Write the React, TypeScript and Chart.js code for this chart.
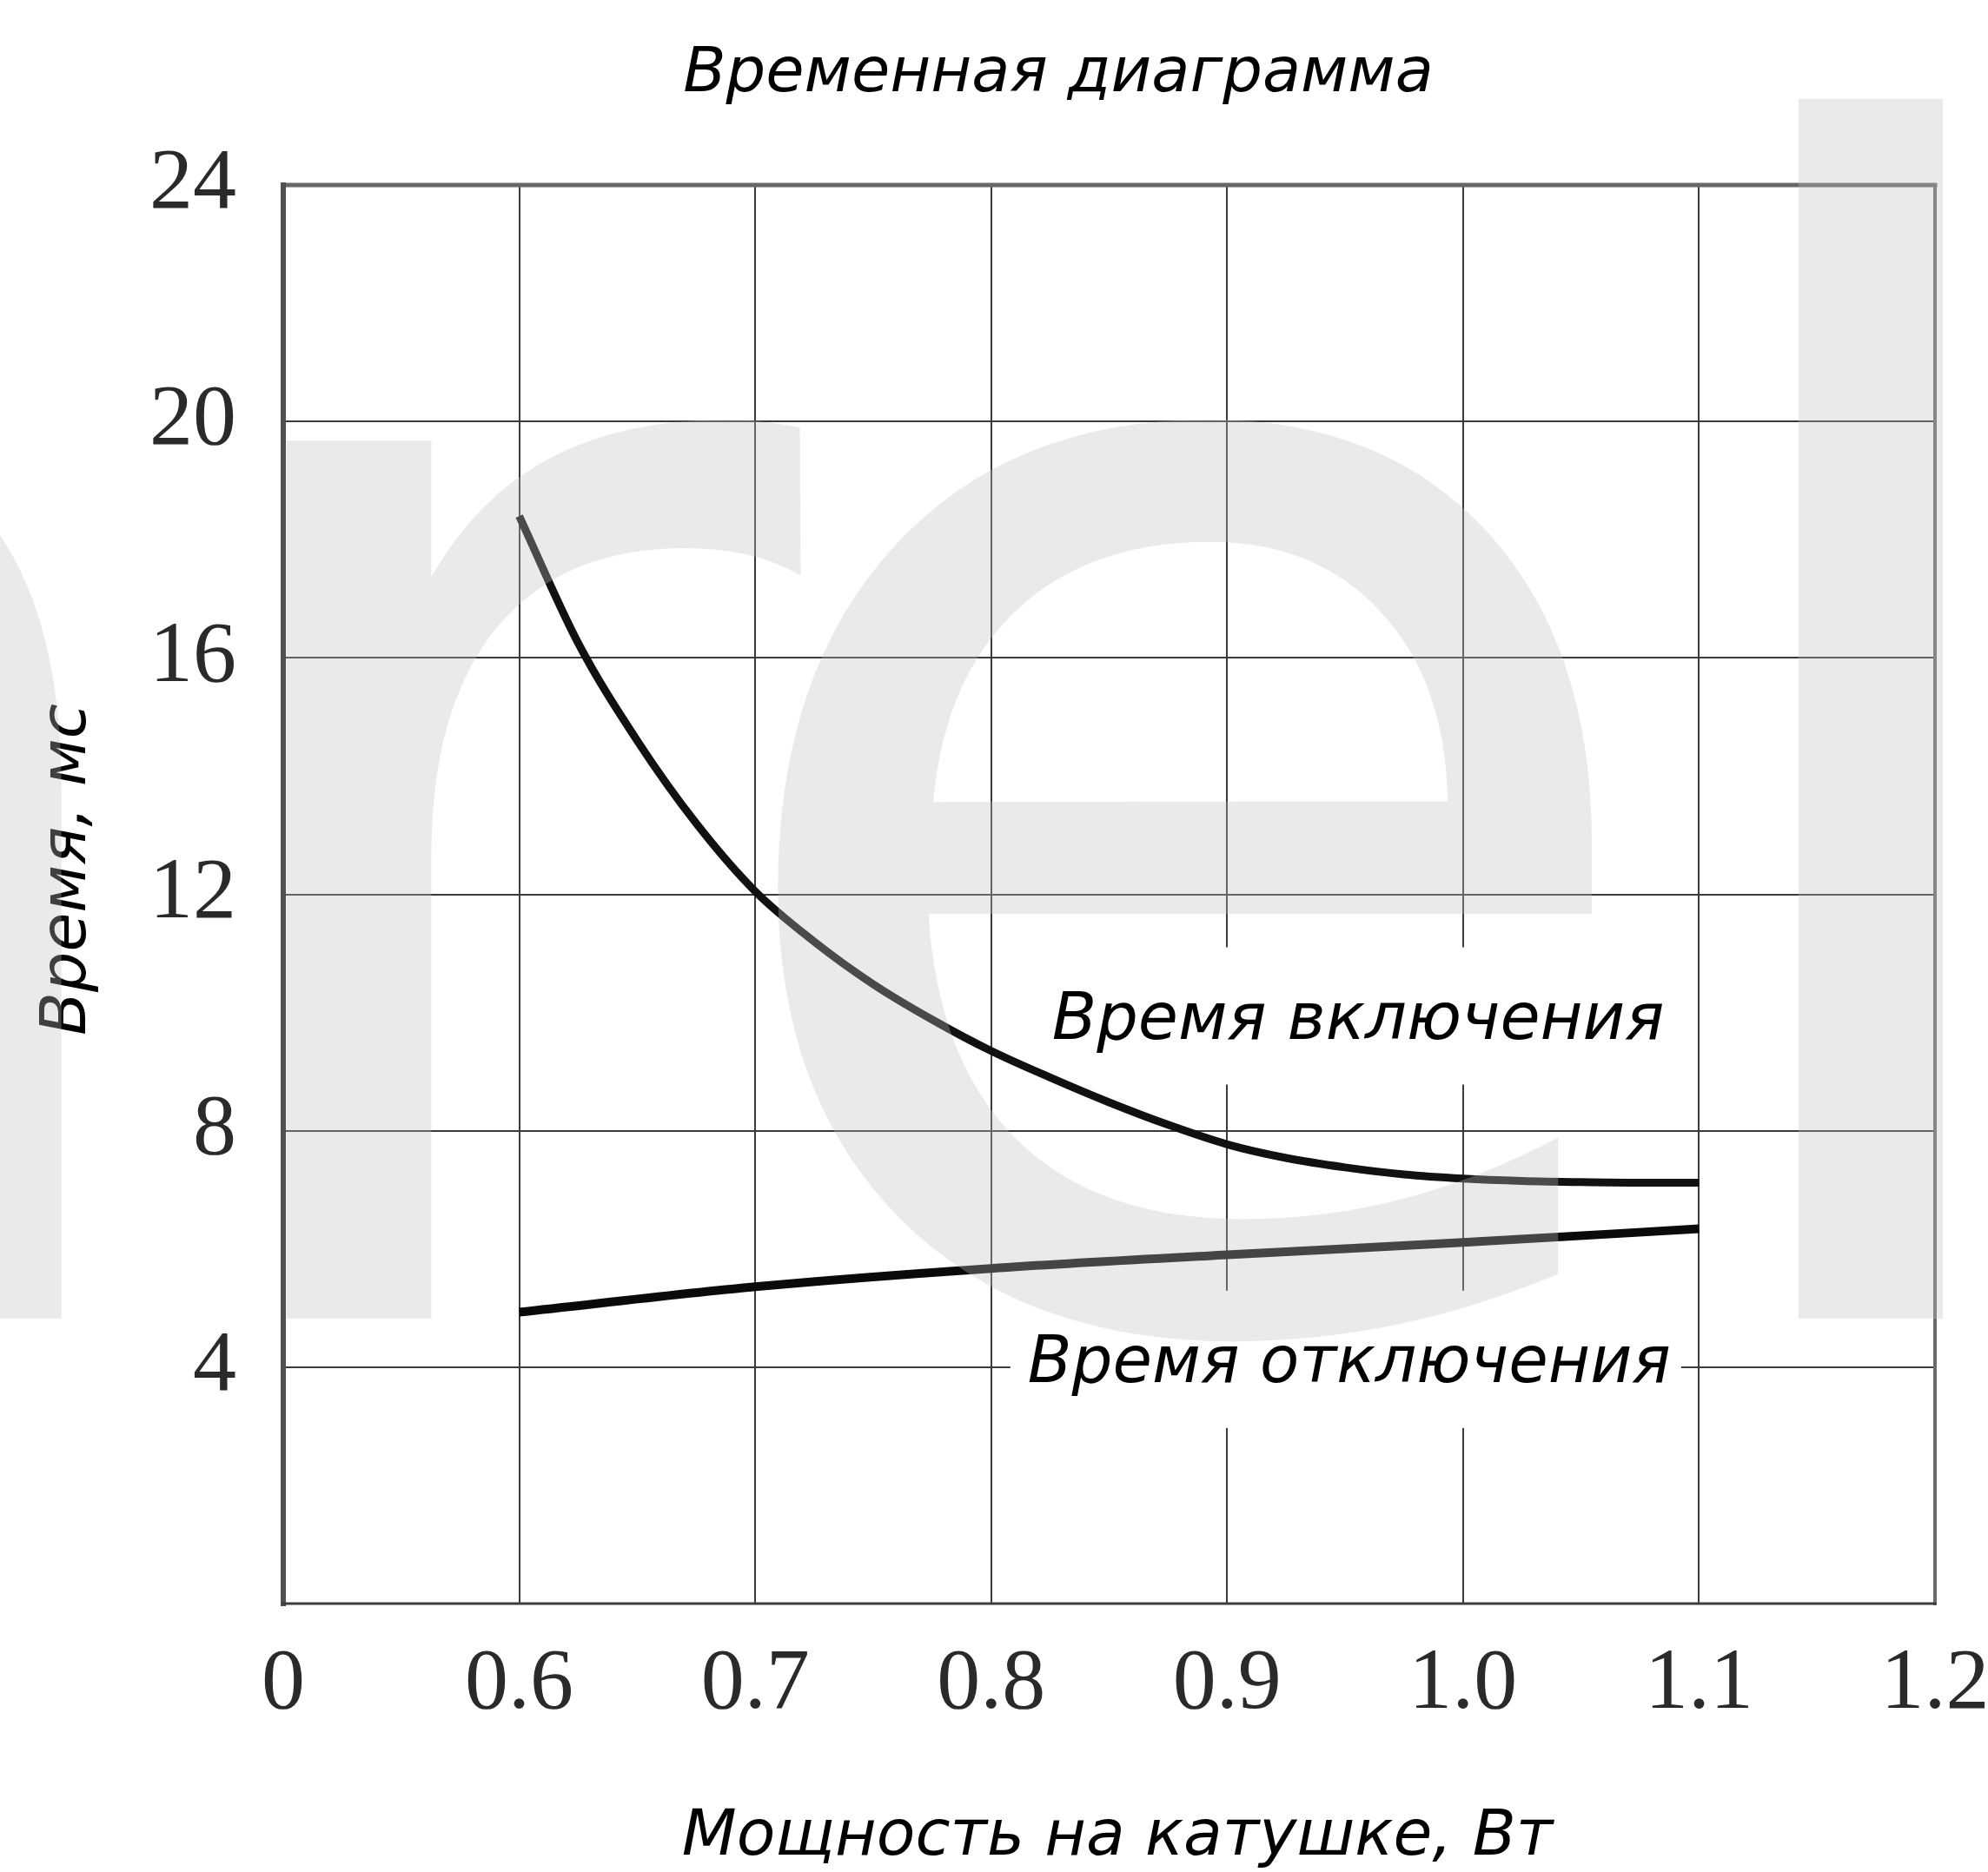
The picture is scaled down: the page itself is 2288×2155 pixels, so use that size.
import React, { useEffect, useRef } from 'react';
import { Chart, registerables } from 'chart.js';

Chart.register(...registerables);

// ---- data ----
const xTickLabels = ['0', '0.6', '0.7', '0.8', '0.9', '1.0', '1.1', '1.2'];
const yTickValues = [0, 4, 8, 12, 16, 20, 24];

// "Время включения" (switch-on time), ms vs coil power, W
const onPower = [
  0.6, 0.625, 0.65, 0.675, 0.7, 0.725, 0.75, 0.775, 0.8, 0.825, 0.85,
  0.875, 0.9, 0.925, 0.95, 0.975, 1.0, 1.025, 1.05, 1.075, 1.1,
];
const onTime = [
  18.4, 16.25, 14.6, 13.2, 12.05, 11.2, 10.48, 9.88, 9.35, 8.9, 8.48,
  8.1, 7.77, 7.54, 7.38, 7.26, 7.19, 7.15, 7.13, 7.12, 7.12,
];

// "Время отключения" (switch-off time)
const offPower = [0.6, 0.7, 0.8, 0.9, 1.0, 1.1];
const offTime = [4.93, 5.36, 5.67, 5.9, 6.11, 6.34];

const titleText = 'Временная диаграмма';
const xTitleText = 'Мощность на катушке, Вт';
const yTitleText = 'Время, мс';
const onLabel = 'Время включения';
const offLabel = 'Время отключения';
const watermarkLetters = ['n', 'r', 'e', 'l'];

// the x axis is broken: 0 sits one step before 0.6
const toAxis = (p: number) => (p === 0 ? 0 : (p - 0.5) * 10);

const W = 2288;
const H = 2155;
const TEXT_FONT = '"DejaVu Sans", Verdana, sans-serif';
const TICK_FONT = '"Liberation Serif", "Times New Roman", serif';

const decorPlugin = {
  id: 'decor',
  beforeDatasetsDraw(chart: any) {
    const ctx = chart.ctx;
    const xs = chart.scales.x;
    const ys = chart.scales.y;
    ctx.save();
    ctx.textBaseline = 'alphabetic';
    ctx.textAlign = 'left';
    const labels = [
      { text: onLabel, size: 75, x: xs.getPixelForValue(3.258), y: ys.getPixelForValue(9.56) },
      { text: offLabel, size: 74, x: xs.getPixelForValue(3.155), y: ys.getPixelForValue(3.75) },
    ];
    for (const l of labels) {
      ctx.font = `italic ${l.size}px ${TEXT_FONT}`;
      const m = ctx.measureText(l.text);
      const left = l.x - 20;
      const right = l.x + m.width + 12;
      ctx.fillStyle = '#ffffff';
      ctx.fillRect(left, l.y - 105, right - left, 158);
    }
    ctx.fillStyle = '#000000';
    for (const l of labels) {
      ctx.font = `italic ${l.size}px ${TEXT_FONT}`;
      ctx.fillText(l.text, l.x, l.y);
    }
    ctx.restore();
  },
  afterDatasetsDraw(chart: any) {
    const ctx = chart.ctx;
    const a = chart.chartArea;
    ctx.save();
    ctx.lineCap = 'square';
    ctx.strokeStyle = '#666666';
    ctx.lineWidth = 5;
    ctx.beginPath();
    ctx.moveTo(a.left, a.top);
    ctx.lineTo(a.right, a.top);
    ctx.stroke();
    ctx.strokeStyle = '#6a6a6a';
    ctx.lineWidth = 4;
    ctx.beginPath();
    ctx.moveTo(a.right, a.top);
    ctx.lineTo(a.right, a.bottom);
    ctx.stroke();
    ctx.strokeStyle = '#505050';
    ctx.lineWidth = 6;
    ctx.beginPath();
    ctx.moveTo(a.left, a.top);
    ctx.lineTo(a.left, a.bottom);
    ctx.stroke();
    ctx.strokeStyle = '#3c3c3c';
    ctx.lineWidth = 3;
    ctx.beginPath();
    ctx.moveTo(a.left, a.bottom);
    ctx.lineTo(a.right, a.bottom);
    ctx.stroke();
    ctx.restore();
  },
  afterDraw(chart: any) {
    const ctx = chart.ctx;
    ctx.save();
    ctx.fillStyle = '#000000';
    ctx.textAlign = 'center';
    ctx.textBaseline = 'alphabetic';
    // title
    ctx.font = `italic 72px ${TEXT_FONT}`;
    ctx.fillText(titleText, 1218, 105);
    // x axis title
    ctx.font = `italic 73px ${TEXT_FONT}`;
    ctx.fillText(xTitleText, 1286, 2135);
    // y axis title
    ctx.save();
    ctx.translate(98, 1001);
    ctx.rotate(-Math.PI / 2);
    ctx.font = `italic 73px ${TEXT_FONT}`;
    ctx.textAlign = 'center';
    ctx.fillText(yTitleText, 0, 0);
    ctx.restore();

    // watermark overlay ("...rel")
    const fam = '"DejaVu Sans", Verdana, sans-serif';
    ctx.font = `1000px ${fam}`;
    const mL = ctx.measureText('l');
    const size = (1000 * 1415) / mL.actualBoundingBoxAscent;
    ctx.font = `${size}px ${fam}`;
    ctx.textAlign = 'left';
    ctx.textBaseline = 'alphabetic';
    ctx.fillStyle = 'rgba(190,190,190,0.33)';
    const base = 1518;
    const place = [
      { ch: watermarkLetters[0], right: 96 },
      { ch: watermarkLetters[1], left: 306 },
      { ch: watermarkLetters[2], left: 880 },
      { ch: watermarkLetters[3], left: 2069 },
    ] as any[];
    for (const p of place) {
      const m = ctx.measureText(p.ch);
      let x: number;
      if (p.left !== undefined) x = p.left + m.actualBoundingBoxLeft;
      else x = p.right - m.actualBoundingBoxRight;
      ctx.fillText(p.ch, x, base);
    }
    ctx.restore();
  },
};

export default function App() {
  const ref = useRef<HTMLCanvasElement | null>(null);

  useEffect(() => {
    document.body.style.margin = '0';
    const canvas = ref.current;
    if (!canvas) return;
    const chart = new Chart(canvas, {
      type: 'line',
      data: {
        datasets: [
          {
            label: onLabel,
            data: onPower.map((p, i) => ({ x: toAxis(p), y: onTime[i] })),
            borderColor: '#111111',
            borderWidth: 9,
            pointRadius: 0,
            fill: false,
            tension: 0.4,
            cubicInterpolationMode: 'monotone',
            borderCapStyle: 'butt',
          },
          {
            label: offLabel,
            data: offPower.map((p, i) => ({ x: toAxis(p), y: offTime[i] })),
            borderColor: '#0a0a0a',
            borderWidth: 10,
            pointRadius: 0,
            fill: false,
            tension: 0.4,
            cubicInterpolationMode: 'monotone',
            borderCapStyle: 'butt',
          },
        ],
      },
      options: {
        animation: false,
        responsive: false,
        maintainAspectRatio: false,
        layout: { padding: { top: 213, right: 61, left: 0, bottom: 0 } },
        plugins: {
          legend: { display: false },
          title: { display: false },
          tooltip: { enabled: false },
        },
        scales: {
          x: {
            type: 'linear',
            min: 0,
            max: xTickLabels.length - 1,
            afterFit: (s: any) => {
              s.height = H - 1846;
              s.paddingLeft = 0;
              s.paddingRight = 0;
            },
            afterBuildTicks: (s: any) => {
              s.ticks = xTickLabels.map((_, i) => ({ value: i }));
            },
            ticks: {
              callback: (v: any) => xTickLabels[Math.round(Number(v))] ?? '',
              font: { family: TICK_FONT, size: 100 },
              color: '#2a2a2a',
              padding: 34,
              maxRotation: 0,
              autoSkip: false,
            },
            grid: { color: '#3a3a3a', lineWidth: 2, drawTicks: false },
            border: { display: false },
          },
          y: {
            type: 'linear',
            min: 0,
            max: 24,
            afterFit: (s: any) => {
              s.width = 326;
              s.paddingTop = 0;
              s.paddingBottom = 0;
            },
            afterBuildTicks: (s: any) => {
              s.ticks = yTickValues.map((v) => ({ value: v }));
            },
            ticks: {
              callback: (v: any) => (Number(v) === 0 ? '' : String(v)),
              font: { family: TICK_FONT, size: 100 },
              color: '#2a2a2a',
              padding: 54,
              autoSkip: false,
            },
            grid: { color: '#3a3a3a', lineWidth: 2, drawTicks: false },
            border: { display: false },
          },
        },
      },
      plugins: [decorPlugin],
    } as any);
    return () => chart.destroy();
  }, []);

  return (
    <div style={{ width: W, height: H, background: '#ffffff' }}>
      <canvas ref={ref} width={W} height={H} style={{ display: 'block', width: W, height: H }} />
    </div>
  );
}
